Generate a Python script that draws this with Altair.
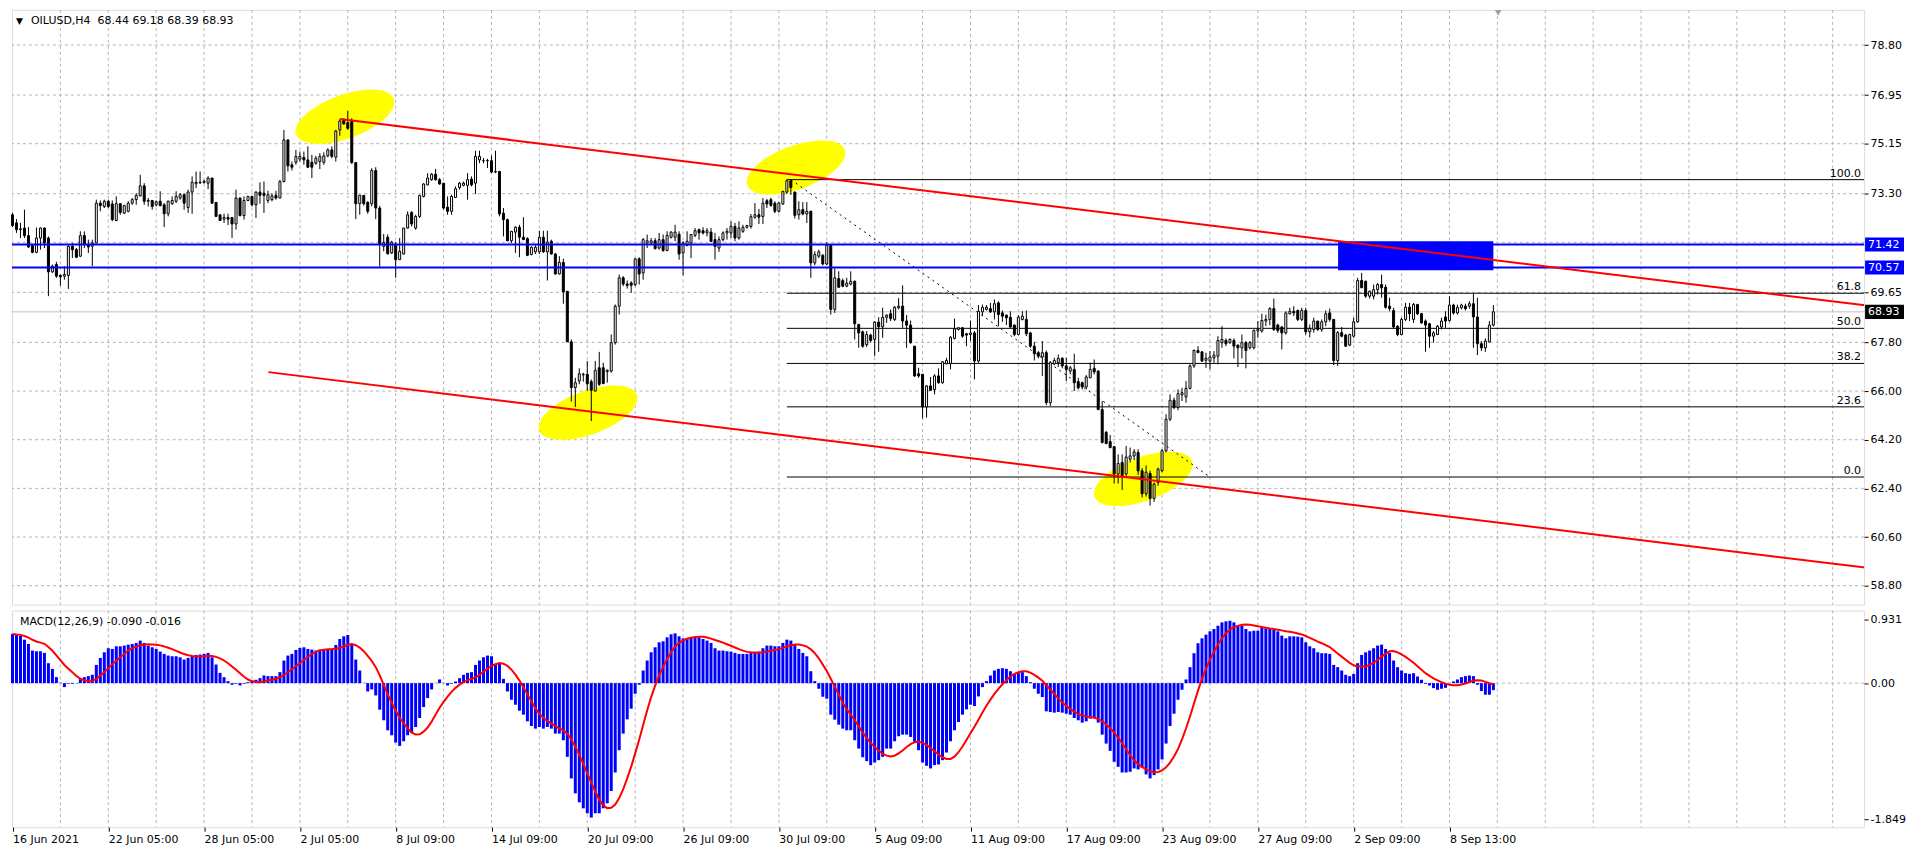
import altair as alt
import pandas as pd

# ---------------- data ----------------
opens = [
 72.52, 72.22, 71.97, 72.03, 71.75, 71.38, 71.13, 71.66, 72.03, 71.66,
 70.41, 70.68, 70.28, 70.25, 70.28, 71.36, 71.23, 70.99, 71.75, 71.42,
 71.36, 71.48, 72.95, 72.83, 73.02, 72.92, 72.31, 72.93, 72.58, 72.65,
 72.95, 73.08, 73.22, 73.59, 73.02, 73.05, 72.89, 73.02, 72.89, 72.56,
 72.93, 73.02, 73.14, 73.26, 72.79, 73.36, 73.67, 73.72, 73.72, 73.69,
 73.88, 72.98, 72.52, 72.36, 72.42, 72.42, 72.18, 73.14, 72.49, 73.05,
 73.20, 72.89, 73.36, 73.32, 73.05, 73.08, 73.24, 73.14, 73.75, 75.29,
 74.37, 74.46, 74.58, 74.64, 74.55, 74.46, 74.43, 74.49, 74.46, 74.70,
 74.92, 74.65, 75.66, 76.03, 75.93, 76.00, 74.45, 72.93, 73.24, 72.98,
 72.93, 74.16, 72.77, 71.35, 71.69, 71.11, 71.42, 70.86, 71.07, 72.03,
 72.61, 72.03, 72.46, 73.20, 73.63, 73.82, 74.02, 73.82, 73.69, 72.80,
 72.65, 73.16, 73.53, 73.61, 73.61, 73.84, 73.69, 74.55, 74.52, 74.52,
 74.52, 74.12, 74.12, 72.58, 72.34, 71.56, 71.88, 72.06, 71.69, 71.64,
 71.05, 71.15, 71.15, 71.69, 71.15, 71.54, 71.07, 70.33, 70.76, 69.69,
 67.82, 66.13, 66.37, 66.62, 66.62, 66.35, 66.00, 66.86, 66.86, 66.72,
 66.74, 67.79, 69.14, 70.19, 69.96, 70.00, 69.94, 70.89, 70.37, 71.48,
 71.48, 71.56, 71.29, 71.60, 71.20, 71.69, 71.69, 71.80, 71.11, 71.39,
 71.48, 71.76, 71.97, 71.93, 71.85, 71.88, 71.60, 71.29, 71.60, 71.85,
 71.85, 72.09, 71.66, 71.91, 72.06, 72.09, 72.43, 72.52, 72.46, 73.04,
 73.08, 72.95, 72.65, 72.92, 73.36, 73.78, 73.36, 72.52, 72.71, 72.55,
 72.65, 70.74, 70.99, 71.02, 70.70, 71.39, 69.02, 70.16, 70.09, 69.88,
 69.96, 70.06, 68.46, 68.19, 67.72, 68.07, 67.91, 68.55, 68.38, 68.73,
 68.86, 68.65, 69.08, 69.14, 68.59, 68.44, 67.66, 66.64, 66.62, 65.41,
 66.19, 66.06, 66.56, 66.31, 67.01, 67.01, 67.95, 68.28, 68.34, 68.12,
 68.09, 68.15, 67.11, 68.93, 69.02, 69.05, 68.93, 69.26, 68.89, 68.81,
 68.73, 68.44, 68.09, 68.65, 68.65, 68.15, 67.66, 67.42, 67.26, 67.42,
 65.57, 67.00, 67.05, 67.21, 66.93, 66.74, 66.80, 66.35, 66.31, 66.15,
 66.49, 66.84, 66.74, 65.32, 64.47, 64.13, 63.94, 62.93, 63.36, 62.93,
 63.48, 63.60, 63.73, 63.05, 62.20, 62.95, 62.03, 62.62, 63.05, 63.79,
 64.96, 65.66, 65.39, 65.86, 65.78, 66.10, 66.93, 67.50, 67.45, 67.14,
 67.11, 67.23, 67.29, 67.79, 67.87, 67.79, 67.87, 67.70, 67.60, 67.79,
 67.60, 67.60, 68.22, 68.22, 68.59, 68.65, 69.05, 68.44, 68.37, 68.15,
 68.86, 68.95, 68.98, 68.65, 68.98, 68.19, 68.28, 68.59, 68.28, 68.56,
 68.89, 68.65, 67.13, 68.16, 68.07, 67.70, 68.03, 68.56, 70.09, 70.06,
 69.51, 69.51, 69.75, 69.94, 69.84, 69.14, 68.98, 68.40, 68.09, 68.65,
 69.10, 68.65, 69.20, 68.86, 68.59, 68.49, 68.03, 68.09, 68.37, 68.74,
 68.61, 69.18, 68.89, 69.08, 69.14, 69.14, 69.23, 68.74, 67.75, 67.60,
 67.82, 68.44]

highs = [
 72.59, 72.36, 72.22, 72.71, 72.07, 71.42, 72.05, 72.05, 72.05, 71.72,
 70.68, 70.78, 70.31, 70.62, 71.39, 71.48, 71.29, 71.91, 71.91, 71.60,
 71.60, 73.08, 73.05, 73.08, 73.08, 73.05, 73.20, 72.95, 72.89, 73.02,
 73.14, 73.32, 74.00, 73.69, 73.14, 73.05, 73.05, 73.39, 72.95, 73.05,
 73.20, 73.39, 73.32, 73.32, 73.45, 73.94, 74.12, 74.12, 73.81, 73.94,
 73.88, 72.98, 72.52, 72.56, 72.56, 72.42, 73.45, 73.16, 73.20, 73.22,
 73.20, 73.39, 73.72, 73.75, 73.41, 73.32, 73.41, 73.81, 75.66, 75.29,
 74.49, 74.92, 74.86, 74.86, 75.05, 74.74, 74.70, 74.80, 74.83, 74.98,
 75.05, 75.66, 76.05, 76.09, 76.37, 76.09, 74.47, 73.26, 73.24, 73.02,
 74.24, 74.28, 72.85, 71.81, 71.79, 71.56, 71.51, 71.66, 72.03, 72.65,
 72.65, 72.52, 73.26, 73.69, 74.06, 74.06, 74.22, 73.88, 73.69, 73.20,
 73.26, 73.57, 73.73, 73.75, 74.06, 73.94, 74.89, 74.89, 74.62, 74.59,
 74.71, 74.89, 74.15, 72.77, 72.38, 71.91, 72.09, 72.15, 72.43, 71.69,
 71.35, 71.39, 71.93, 71.93, 71.93, 71.60, 71.11, 70.99, 70.90, 69.69,
 67.91, 66.49, 66.84, 66.68, 67.11, 66.43, 67.11, 67.45, 67.05, 66.80,
 68.09, 69.20, 70.31, 70.25, 70.09, 70.06, 70.92, 70.95, 71.66, 71.79,
 71.66, 71.66, 71.85, 71.79, 71.91, 71.91, 72.15, 71.91, 71.54, 71.91,
 71.81, 72.03, 72.01, 72.06, 72.03, 72.03, 71.85, 71.72, 71.91, 72.03,
 72.28, 72.22, 72.28, 72.15, 72.15, 72.55, 72.95, 72.74, 73.14, 73.11,
 73.15, 73.02, 73.00, 73.41, 73.82, 73.82, 73.38, 73.02, 72.99, 72.99,
 72.67, 71.17, 71.23, 71.07, 71.51, 71.42, 70.53, 70.43, 70.16, 70.19,
 70.43, 70.09, 68.49, 68.24, 68.22, 68.12, 68.59, 68.73, 69.08, 68.83,
 69.02, 69.14, 69.44, 69.91, 68.81, 68.61, 67.66, 66.86, 66.62, 66.22,
 66.52, 66.62, 66.84, 67.11, 67.23, 68.03, 68.68, 68.37, 68.37, 68.15,
 68.61, 68.22, 69.18, 69.20, 69.18, 69.26, 69.39, 69.32, 68.98, 68.83,
 68.95, 68.46, 68.81, 68.95, 68.98, 68.19, 67.82, 67.48, 67.85, 67.50,
 67.11, 67.23, 67.35, 67.26, 67.23, 66.93, 67.38, 66.49, 66.35, 66.59,
 67.05, 67.17, 66.77, 65.63, 64.53, 64.38, 63.97, 63.66, 63.66, 63.97,
 63.91, 63.85, 63.85, 63.15, 63.25, 63.05, 62.62, 63.17, 63.85, 65.14,
 65.88, 65.76, 66.06, 66.12, 66.37, 66.99, 67.54, 67.66, 67.48, 67.42,
 67.48, 67.48, 68.03, 68.40, 67.95, 67.95, 67.95, 67.72, 68.09, 67.85,
 67.85, 68.28, 68.59, 68.86, 68.83, 69.10, 69.42, 68.49, 68.40, 68.95,
 69.08, 69.14, 69.02, 69.08, 69.08, 68.46, 68.71, 68.59, 68.65, 68.98,
 69.05, 68.65, 68.22, 68.37, 68.12, 68.12, 68.71, 70.19, 70.37, 70.09,
 69.72, 69.94, 70.00, 70.31, 69.94, 69.45, 69.08, 68.44, 68.71, 69.26,
 69.26, 69.26, 69.23, 68.89, 68.65, 68.52, 68.22, 68.44, 68.71, 68.95,
 69.51, 69.23, 69.20, 69.23, 69.23, 69.32, 69.60, 69.45, 67.85, 67.95,
 68.59, 69.18]

lows = [
 72.07, 71.85, 71.66, 71.66, 71.29, 71.10, 71.10, 71.23, 71.29, 69.51,
 70.37, 70.19, 69.90, 70.12, 69.78, 70.92, 70.92, 70.96, 71.29, 71.11,
 70.62, 71.46, 72.65, 72.77, 72.77, 72.28, 72.28, 72.52, 72.56, 72.61,
 72.89, 72.89, 73.20, 72.89, 72.83, 72.71, 72.83, 72.83, 72.07, 72.46,
 72.89, 72.95, 73.08, 72.71, 72.59, 72.56, 73.51, 73.67, 73.67, 73.47,
 72.93, 72.44, 72.31, 72.22, 72.14, 71.66, 71.97, 72.46, 72.34, 73.02,
 72.83, 72.40, 72.93, 72.59, 72.95, 73.02, 73.08, 73.14, 73.72, 74.12,
 74.16, 74.37, 74.49, 74.37, 74.25, 73.88, 74.37, 74.21, 74.37, 74.65,
 74.61, 74.49, 75.44, 75.85, 75.66, 74.40, 72.36, 72.52, 72.86, 72.56,
 72.83, 72.36, 70.60, 71.17, 71.05, 71.07, 70.19, 70.86, 71.05, 72.01,
 72.09, 71.97, 72.40, 73.16, 73.61, 73.78, 73.78, 73.63, 72.71, 72.52,
 72.52, 73.14, 73.45, 73.57, 73.08, 73.57, 73.29, 74.43, 74.43, 74.25,
 74.06, 74.06, 72.46, 71.72, 71.54, 71.48, 71.11, 70.95, 71.60, 70.99,
 71.02, 71.07, 71.07, 71.11, 70.09, 71.05, 70.31, 70.31, 69.23, 67.82,
 65.61, 65.41, 66.25, 66.35, 66.00, 64.89, 65.98, 66.19, 66.25, 66.31,
 66.68, 67.72, 68.83, 69.88, 69.79, 69.63, 69.88, 69.94, 70.12, 71.29,
 71.42, 71.23, 71.23, 71.15, 71.17, 71.64, 71.54, 70.86, 70.28, 71.35,
 70.92, 71.69, 71.60, 71.79, 71.72, 71.51, 70.86, 71.15, 71.54, 71.60,
 71.66, 71.54, 71.60, 71.85, 72.01, 72.01, 72.37, 72.18, 72.18, 72.77,
 72.82, 72.58, 72.60, 72.89, 73.29, 73.26, 72.38, 72.34, 72.50, 72.22,
 70.19, 70.65, 70.92, 70.65, 70.65, 68.83, 68.89, 69.82, 69.84, 69.84,
 69.91, 67.91, 67.60, 67.60, 67.63, 67.79, 67.29, 67.45, 67.97, 68.52,
 68.59, 68.59, 69.02, 68.34, 67.60, 67.75, 66.52, 66.49, 64.99, 65.02,
 66.00, 65.88, 66.27, 66.27, 66.99, 66.80, 67.91, 68.24, 67.97, 67.66,
 67.85, 66.43, 67.05, 68.77, 68.98, 68.89, 68.65, 68.40, 68.56, 68.44,
 68.34, 68.03, 68.07, 68.61, 68.03, 67.60, 67.13, 67.21, 66.56, 65.48,
 65.45, 66.96, 66.89, 66.84, 66.37, 66.62, 66.00, 66.06, 66.06, 66.06,
 66.49, 66.62, 65.29, 64.06, 64.03, 63.88, 62.58, 62.58, 62.34, 62.86,
 63.36, 63.45, 62.90, 62.06, 62.10, 61.76, 61.90, 62.50, 62.99, 63.73,
 64.89, 65.33, 65.29, 65.63, 65.57, 66.06, 66.86, 67.42, 67.08, 66.86,
 66.80, 67.05, 66.99, 67.60, 67.66, 67.75, 67.21, 66.89, 67.21, 66.84,
 67.54, 67.54, 67.97, 68.16, 68.40, 68.44, 68.22, 68.15, 67.54, 68.09,
 68.83, 68.77, 68.59, 68.59, 68.09, 67.99, 68.16, 68.22, 68.19, 68.40,
 68.56, 66.96, 66.93, 67.99, 67.63, 67.66, 67.97, 68.52, 69.82, 69.45,
 69.42, 69.39, 69.57, 69.45, 69.05, 68.95, 68.32, 68.03, 68.07, 68.59,
 68.59, 68.52, 68.81, 68.49, 67.45, 67.60, 67.79, 68.07, 68.28, 68.34,
 68.56, 68.83, 68.83, 69.02, 68.98, 69.05, 67.60, 67.33, 67.48, 67.45,
 67.79, 68.39]

closes = [
 72.12, 71.97, 72.00, 71.75, 71.33, 71.13, 71.66, 72.03, 71.48, 70.41,
 70.62, 70.25, 70.22, 70.31, 71.35, 71.23, 70.95, 71.75, 71.42, 71.33,
 71.48, 72.95, 72.86, 73.02, 72.83, 72.34, 72.93, 72.61, 72.86, 72.95,
 73.08, 73.24, 73.59, 73.02, 73.05, 72.83, 73.00, 72.86, 72.56, 73.02,
 73.05, 73.20, 73.26, 72.95, 73.36, 73.72, 73.72, 73.70, 73.76, 73.88,
 72.95, 72.46, 72.31, 72.42, 72.36, 72.18, 73.14, 72.49, 73.05, 73.20,
 72.89, 73.36, 73.24, 73.24, 73.26, 73.22, 73.14, 73.75, 75.29, 74.33,
 74.28, 74.68, 74.68, 74.55, 74.28, 74.28, 74.61, 74.68, 74.70, 74.92,
 74.68, 75.62, 75.99, 75.88, 75.72, 74.45, 72.93, 73.24, 72.93, 72.65,
 74.16, 72.77, 71.43, 71.50, 71.08, 71.51, 70.86, 71.17, 72.03, 72.52,
 72.18, 72.46, 73.24, 73.66, 73.88, 74.02, 73.82, 73.66, 72.77, 72.65,
 73.20, 73.48, 73.69, 73.69, 73.82, 73.63, 74.68, 74.68, 74.52, 74.53,
 74.10, 74.10, 72.55, 72.34, 71.56, 71.91, 72.06, 71.69, 71.60, 71.02,
 71.32, 71.32, 71.69, 71.15, 71.51, 71.07, 70.33, 70.76, 69.67, 67.82,
 66.13, 66.31, 66.64, 66.60, 66.27, 66.03, 66.77, 66.25, 66.28, 66.77,
 67.79, 69.14, 70.19, 69.96, 69.91, 69.91, 70.89, 70.33, 71.60, 71.56,
 71.56, 71.27, 71.60, 71.20, 71.76, 71.88, 71.88, 71.07, 71.48, 71.54,
 71.79, 71.93, 71.85, 71.85, 71.93, 71.54, 71.35, 71.60, 71.85, 71.91,
 72.09, 71.66, 72.03, 72.06, 72.12, 72.45, 72.52, 72.43, 72.95, 72.92,
 72.87, 72.65, 72.95, 73.38, 73.78, 73.53, 72.50, 72.71, 72.55, 72.65,
 70.74, 71.05, 71.15, 70.70, 71.39, 69.02, 70.19, 69.84, 69.88, 69.99,
 70.06, 68.49, 68.15, 67.66, 68.09, 67.87, 68.55, 68.38, 68.73, 68.81,
 68.68, 69.10, 69.14, 68.59, 68.44, 67.79, 66.56, 66.56, 65.41, 66.19,
 66.03, 66.56, 66.31, 67.08, 67.13, 67.99, 68.30, 68.34, 68.03, 68.07,
 68.15, 67.11, 68.95, 69.10, 69.10, 68.93, 69.23, 68.83, 68.77, 68.71,
 68.37, 68.09, 68.73, 68.77, 68.12, 67.66, 67.38, 67.29, 67.42, 65.57,
 67.05, 67.13, 67.21, 66.93, 66.80, 66.86, 66.31, 66.12, 66.15, 66.52,
 66.80, 66.71, 65.32, 64.10, 64.06, 63.91, 62.93, 63.32, 62.87, 63.56,
 63.60, 63.75, 63.05, 62.20, 63.00, 62.03, 62.56, 63.11, 63.79, 64.96,
 65.66, 65.39, 65.90, 65.94, 66.10, 66.93, 67.50, 67.42, 67.11, 67.21,
 67.26, 67.33, 67.87, 67.91, 67.75, 67.91, 67.66, 67.60, 67.79, 67.50,
 67.79, 68.24, 68.28, 68.61, 68.65, 69.05, 68.28, 68.24, 68.15, 68.89,
 68.95, 68.89, 68.65, 68.98, 68.19, 68.32, 68.59, 68.28, 68.56, 68.86,
 68.65, 67.13, 68.16, 68.03, 67.66, 68.09, 68.56, 70.09, 69.82, 69.51,
 69.69, 69.75, 69.94, 69.82, 69.10, 69.05, 68.37, 68.09, 68.65, 69.10,
 68.86, 69.20, 68.86, 68.52, 68.44, 68.03, 68.15, 68.40, 68.59, 68.59,
 69.18, 68.89, 69.10, 69.18, 69.05, 69.23, 68.74, 67.75, 67.60, 67.85,
 68.44, 68.93]

macd_main = [
 0.631, 0.618, 0.610, 0.558, 0.503, 0.418, 0.409, 0.409, 0.388, 0.256,
 0.183, 0.077, 0.005, -0.051, -0.009, -0.009, -0.004, 0.055, 0.077, 0.090,
 0.107, 0.234, 0.324, 0.396, 0.448, 0.439, 0.473, 0.473, 0.482, 0.494,
 0.503, 0.516, 0.546, 0.516, 0.482, 0.460, 0.439, 0.405, 0.375, 0.354,
 0.345, 0.345, 0.332, 0.303, 0.324, 0.345, 0.362, 0.367, 0.375, 0.388,
 0.332, 0.239, 0.132, 0.077, 0.026, -0.021, -0.009, -0.030, -0.009, 0.013,
 0.034, 0.043, 0.064, 0.098, 0.090, 0.090, 0.090, 0.141, 0.290, 0.354,
 0.375, 0.426, 0.452, 0.460, 0.439, 0.431, 0.418, 0.431, 0.431, 0.431,
 0.439, 0.490, 0.567, 0.601, 0.618, 0.503, 0.303, 0.162, 0.004, -0.107,
 -0.081, -0.158, -0.341, -0.477, -0.605, -0.669, -0.763, -0.806, -0.746, -0.669,
 -0.635, -0.563, -0.448, -0.307, -0.192, -0.081, 0.003, 0.047, 0.003, -0.030,
 -0.009, 0.021, 0.064, 0.107, 0.132, 0.141, 0.234, 0.290, 0.332, 0.354,
 0.345, 0.247, 0.247, 0.055,
 -0.107, -0.213, -0.277, -0.354, -0.405, -0.490, -0.550, -0.584, -0.563, -0.584,
 -0.563, -0.584, -0.648, -0.648, -0.733, -0.946, -1.223, -1.415, -1.530, -1.607,
 -1.671, -1.726, -1.671, -1.671, -1.607, -1.543, -1.385, -1.147, -0.861, -0.648,
 -0.465, -0.328, -0.136, -0.021, 0.162, 0.290, 0.396, 0.460, 0.524, 0.537,
 0.588, 0.627, 0.639, 0.601, 0.575, 0.575, 0.588, 0.588, 0.588, 0.567,
 0.546, 0.516, 0.448, 0.418, 0.418, 0.409, 0.405, 0.388, 0.375, 0.375,
 0.375, 0.396, 0.396, 0.405, 0.448, 0.482, 0.482, 0.473, 0.473, 0.516,
 0.558, 0.546, 0.490, 0.439, 0.388, 0.345, 0.153, 0.026, -0.072, -0.175,
 -0.200, -0.405, -0.469, -0.533, -0.584, -0.605, -0.605, -0.733, -0.840, -0.951,
 -1.002, -1.053, -1.019, -0.989, -0.946, -0.840, -0.840, -0.746, -0.682, -0.661,
 -0.661, -0.691, -0.754, -0.861, -1.019, -1.061, -1.095, -1.053, -1.044, -0.989,
 -0.891, -0.746, -0.605, -0.499, -0.405, -0.337, -0.277, -0.294, -0.171, -0.051,
 0.026, 0.098, 0.162, 0.183, 0.192,
 0.183, 0.153, 0.119, 0.141, 0.141, 0.090, 0.013, -0.072, -0.136, -0.179,
 -0.362, -0.371, -0.379, -0.371, -0.379, -0.392, -0.405, -0.448, -0.477, -0.507,
 -0.490, -0.456, -0.448, -0.507, -0.661, -0.776, -0.870, -1.010, -1.074, -1.147,
 -1.147, -1.138, -1.095, -1.108, -1.087, -1.172, -1.223, -1.181, -1.108, -0.980,
 -0.776, -0.550, -0.392, -0.213, -0.085, 0.047, 0.205, 0.384, 0.512, 0.575,
 0.622, 0.665, 0.695, 0.737, 0.780, 0.793, 0.801, 0.780, 0.746, 0.737,
 0.695, 0.665, 0.673, 0.673, 0.716, 0.703, 0.703, 0.686, 0.665, 0.610,
 0.575, 0.601, 0.601, 0.597, 0.588, 0.524, 0.473, 0.448, 0.396, 0.384,
 0.384, 0.375, 0.234, 0.205, 0.162, 0.107, 0.090, 0.119, 0.256, 0.362,
 0.396, 0.418, 0.448, 0.482, 0.494, 0.439, 0.388, 0.290, 0.205, 0.162,
 0.128, 0.119, 0.128, 0.085, 0.043, -0.009, -0.030, -0.064, -0.085, -0.072,
 -0.060, 0.003, 0.021, 0.047, 0.077, 0.090, 0.098, 0.090, -0.021, -0.102,
 -0.149, -0.149, -0.090]

date_labels = ["16 Jun 2021", "22 Jun 05:00", "28 Jun 05:00", "2 Jul 05:00",
               "8 Jul 09:00", "14 Jul 09:00", "20 Jul 09:00", "26 Jul 09:00",
               "30 Jul 09:00", "5 Aug 09:00", "11 Aug 09:00", "17 Aug 09:00",
               "23 Aug 09:00", "27 Aug 09:00", "2 Sep 09:00", "8 Sep 13:00"]
bars_per_label = 24
price_ticks = [78.80, 76.95, 75.15, 73.30, 69.65, 67.80, 66.00, 64.20, 62.40, 60.60, 58.80]
price_grid = price_ticks + [71.50]

fib_high, fib_low = 73.82, 62.82
fib_levels = [100.0, 61.8, 50.0, 38.2, 23.6, 0.0]
fib_start_bar = 194
fib_diag_bars = [195, 300]
fib_diag_prices = [73.82, 62.82]

trend_upper_bars, trend_upper_prices = [82.0, 465.8], [76.06, 69.14]
trend_lower_bars, trend_lower_prices = [64.1, 465.8], [66.70, 59.44]
blue_levels = [71.42, 70.57]
bid = 68.93
zone_bars = [332.1, 371.0]
zone_prices = [71.54, 70.47]
ellipse_bars = [83.3, 196.3, 144.2, 283.3]
ellipse_prices = [76.15, 74.27, 65.20, 62.75]

header = "OILUSD,H4\u00a0\u00a068.44 69.18 68.39 68.93"
macd_header = "MACD(12,26,9) -0.090 -0.016"

# ---------------- layout / style ----------------
W, HP, HM = 1856, 596, 217
BOXW = 40
XDOM = [-0.125, -0.125 + W / 4.0]
PDOM = [58.10, 80.10]
MDOM = [-1.849, 0.931]
FONT = "DejaVu Sans"
GRID = "#b4b4b4"
BLUE = "#0000ff"
RED = "#ff0000"
ELLIPSE = "M -1 0 A 1 0.42 0 1 1 1 0 A 1 0.42 0 1 1 -1 0 Z"

price_axis = alt.Axis(orient="right", values=price_ticks, format=".2f", title=None, grid=False,
                      tickSize=4, labelPadding=2, domain=False, labelFont=FONT, labelFontSize=11,
                      labelColor="black", tickColor="black")
label_expr = "[" + ",".join("'" + s + "'" for s in date_labels) + "][round(datum.value / %d)]" % bars_per_label
date_axis = alt.Axis(values=[k * bars_per_label for k in range(len(date_labels))], labelExpr=label_expr,
                     labelAlign="left", labelPadding=2, tickSize=4, title=None, grid=False, domain=False,
                     labelOverlap=False, labelBound=False, labelFlush=False, labelFont=FONT,
                     labelFontSize=11, labelColor="black", tickColor="black", orient="bottom")
macd_axis = alt.Axis(orient="right", values=[0.82, 0.0, -1.745],
                     labelExpr="datum.value > 0.5 ? '0.931' : (datum.value < -1 ? '-1.849' : '0.00')",
                     tickSize=4, labelPadding=2, title=None, grid=False, domain=False, labelFont=FONT,
                     labelFontSize=11, labelColor="black", tickColor="black")


def XP(f):
    return alt.X(f, type="quantitative", scale=alt.Scale(domain=XDOM, nice=False, zero=False), axis=None)


def XM(f):
    return alt.X(f, type="quantitative", scale=alt.Scale(domain=XDOM, nice=False, zero=False), axis=date_axis)


def YP(f):
    return alt.Y(f, type="quantitative", scale=alt.Scale(domain=PDOM, nice=False, zero=False), axis=price_axis)


def YM(f):
    return alt.Y(f, type="quantitative", scale=alt.Scale(domain=MDOM, nice=False, zero=False), axis=macd_axis)


n = min(len(opens), len(highs), len(lows), len(closes))
cdf = pd.DataFrame({"i": list(range(n)), "o": opens[:n], "h": highs[:n], "l": lows[:n], "c": closes[:n]})
cdf["top"] = cdf[["o", "c"]].max(axis=1)
cdf["bot"] = cdf[["o", "c"]].min(axis=1)
cdf["h"] = cdf[["h", "top"]].max(axis=1)
cdf["l"] = cdf[["l", "bot"]].min(axis=1)

vgrid = pd.DataFrame({"i": list(range(12, int(XDOM[1]) + 1, 12))})

fib_df = pd.DataFrame({"lvl": fib_levels})
fib_df["p"] = fib_low + (fib_high - fib_low) * fib_df["lvl"] / 100.0
fib_df["lab"] = fib_df["lvl"].map(lambda v: f"{v:.1f}")
fib_df["x1"] = fib_start_bar
fib_df["x2"] = XDOM[1]

trend_df = pd.DataFrame({
    "line": ["u", "u", "d", "d"],
    "i": trend_upper_bars + trend_lower_bars,
    "p": trend_upper_prices + trend_lower_prices,
})
diag_df = pd.DataFrame({"i": fib_diag_bars, "p": fib_diag_prices})
ell_df = pd.DataFrame({"i": ellipse_bars, "p": ellipse_prices})
zone_df = pd.DataFrame({"x1": [zone_bars[0]], "x2": [zone_bars[1]], "y1": [zone_prices[0]], "y2": [zone_prices[1]]})
lab_df = pd.DataFrame({"v": blue_levels + [bid], "col": [BLUE, BLUE, "#000000"]})
lab_df["lab"] = lab_df["v"].map(lambda v: f"{v:.2f}")

# ---------------- price panel ----------------
vg_p = alt.Chart(vgrid).mark_rule(color=GRID, strokeDash=[3, 3], strokeWidth=1).encode(x=XP("i"))
hg_p = alt.Chart(pd.DataFrame({"p": price_grid})).mark_rule(color=GRID, strokeDash=[3, 3], strokeWidth=1).encode(y=YP("p"))
ell = alt.Chart(ell_df).mark_point(shape=ELLIPSE, size=10816, angle=340, filled=True, color="#ffff00",
                                   opacity=1, strokeWidth=0).encode(x=XP("i"), y=YP("p"))
bidline = alt.Chart(pd.DataFrame({"p": [bid]})).mark_rule(color="#c0c0c0", strokeWidth=1).encode(y=YP("p"))
fibl = alt.Chart(fib_df).mark_rule(color="black", strokeWidth=1, clip=True).encode(
    x=XP("x1"), x2=alt.X2("x2"), y=YP("p"))
fibdiag = alt.Chart(diag_df).mark_line(color="black", strokeWidth=1, strokeDash=[2, 4]).encode(x=XP("i"), y=YP("p"))
zone = alt.Chart(zone_df).mark_rect(color=BLUE, opacity=1).encode(
    x=XP("x1"), x2=alt.X2("x2"), y=YP("y1"), y2=alt.Y2("y2"))
wicks = alt.Chart(cdf).mark_rule(color="black", strokeWidth=1).encode(
    x=XP("i"), y=YP("h"), y2=alt.Y2("l"))
bodies = alt.Chart(cdf).transform_calculate(xa="datum.i - 0.25", xb="datum.i + 0.25").mark_rect(
    stroke="black", strokeWidth=1).encode(
    x=XP("xa"), x2=alt.X2("xb"), y=YP("top"), y2=alt.Y2("bot"),
    fill=alt.condition("datum.c >= datum.o", alt.value("white"), alt.value("black")))
bluel = alt.Chart(pd.DataFrame({"p": blue_levels})).mark_rule(color=BLUE, strokeWidth=2).encode(y=YP("p"))
redl = alt.Chart(trend_df).mark_line(color=RED, strokeWidth=2, clip=True).encode(
    x=XP("i"), y=YP("p"), detail="line:N")
fibtxt = alt.Chart(fib_df).mark_text(align="right", baseline="bottom", dy=-1, font=FONT, fontSize=11,
                                     color="black").encode(x=alt.value(W - 3), y=YP("p"), text="lab:N")
boxes = alt.Chart(lab_df).transform_calculate(t="datum.v + 0.26", b="datum.v - 0.26").mark_rect().encode(
    x=alt.value(W + 1), x2=alt.value(W + BOXW), y=YP("t"), y2=alt.Y2("b"), color=alt.Color("col:N", scale=None))
boxtxt = alt.Chart(lab_df).mark_text(align="left", baseline="middle", color="white", font=FONT,
                                     fontSize=11).encode(x=alt.value(W + 4), y=YP("v"), text="lab:N")
tri = alt.Chart(pd.DataFrame({"t": ["\u25bc"]})).mark_text(align="left", baseline="middle", font=FONT,
                                                          fontSize=9, color="black").encode(
    x=alt.value(4), y=alt.value(11), text="t:N")
hdr = alt.Chart(pd.DataFrame({"t": [header]})).mark_text(align="left", baseline="middle", font=FONT,
                                                        fontSize=11, color="black").encode(
    x=alt.value(19), y=alt.value(11), text="t:N")
shift = alt.Chart(pd.DataFrame({"i": [n + 0.2]})).mark_point(shape="triangle-down", filled=True,
                                                             color="#a0a0a0", size=45, opacity=1).encode(
    x=XP("i"), y=alt.value(3))

price = alt.layer(vg_p, hg_p, ell, bidline, fibl, fibdiag, zone, wicks, bodies, bluel, redl,
                  fibtxt, boxes, boxtxt, tri, hdr, shift).properties(width=W, height=HP)

# ---------------- MACD panel ----------------
m = len(macd_main)
mdf = pd.DataFrame({"i": list(range(m)), "m": macd_main, "z": [0.0] * m})

vg_m = alt.Chart(vgrid).mark_rule(color=GRID, strokeDash=[3, 3], strokeWidth=1).encode(x=XM("i"))
zero_m = alt.Chart(pd.DataFrame({"v": [0.0]})).mark_rule(color=GRID, strokeDash=[3, 3], strokeWidth=1).encode(y=YM("v"))
hist = alt.Chart(mdf).mark_rule(color=BLUE, strokeWidth=3).encode(
    x=XM("i"), y=YM("m"), y2=alt.Y2("z"))
sig = alt.Chart(mdf).transform_window(sig="mean(m)", frame=[-8, 0], sort=[alt.SortField(field="i")]).mark_line(
    color=RED, strokeWidth=2).encode(x=XM("i"), y=YM("sig"))
mhdr = alt.Chart(pd.DataFrame({"t": [macd_header]})).mark_text(align="left", baseline="middle", font=FONT,
                                                              fontSize=11, color="black").encode(
    x=alt.value(8), y=alt.value(11), text="t:N")

macd = alt.layer(vg_m, zero_m, hist, sig, mhdr).properties(width=W, height=HM)

chart = alt.vconcat(price, macd, spacing=4).configure_view(stroke="black", strokeWidth=1).configure(
    font=FONT).properties(padding=0, background="white")

chart.save("out.html", embed_options={"renderer": "svg", "actions": False})
